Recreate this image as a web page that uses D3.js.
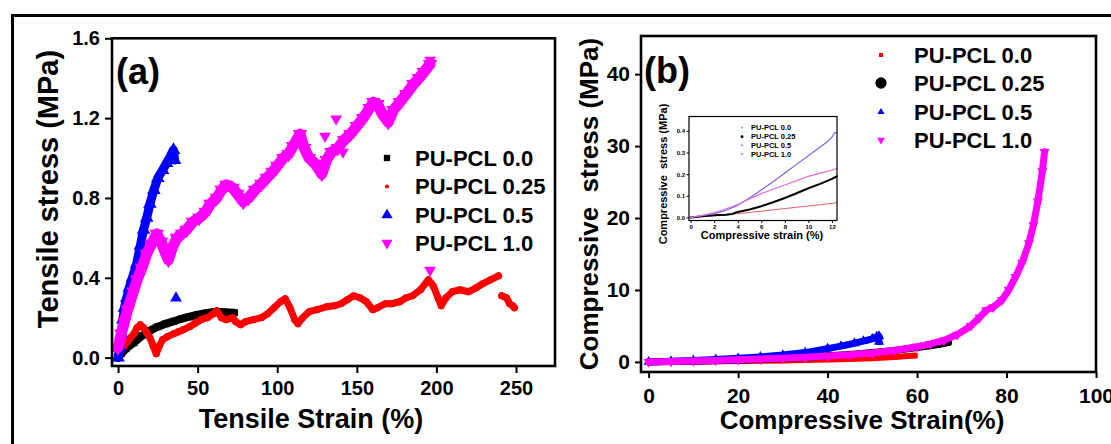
<!DOCTYPE html>
<html>
<head>
<meta charset="utf-8">
<script src="https://cdn.jsdelivr.net/npm/d3@7"></script>
<style>
  body { margin: 0; background: #fff; }
  svg { display: block; }
  text { font-family: "Liberation Sans", Arial, sans-serif; font-weight: bold; fill: #000; }
</style>
</head>
<body>
<svg id="fig" width="1111" height="444"></svg>
<script>
// ---------- (a) tensile curves: [strain %, stress MPa] ----------
const tensile00 = [[0,0.0],[2,0.02],[5,0.045],[10,0.075],[15,0.11],[20,0.135],[25,0.155],[30,0.17],[35,0.182],[40,0.195],[45,0.205],[50,0.215],[55,0.222],[60,0.228],[65,0.228],[70,0.226],[73,0.225]];
const tensile025 = [[0,0.01],[2,0.04],[4,0.06],[6,0.08],[8,0.1],[10,0.12],[12,0.15],[14,0.165],[16,0.15],[18,0.125],[20,0.1],[22,0.06],[24,0.02],[26,0.06],[28,0.09],[31,0.105],[35,0.12],[38,0.13],[41,0.14],[45,0.155],[48,0.17],[52,0.19],[56,0.2],[60,0.22],[62,0.235],[65,0.2],[68,0.19],[72,0.2],[74,0.18],[77,0.165],[80,0.18],[85,0.19],[90,0.2],[94,0.22],[98,0.25],[102,0.28],[105,0.295],[108,0.25],[111,0.19],[113,0.17],[116,0.2],[120,0.23],[125,0.24],[131,0.255],[136,0.26],[140,0.27],[144,0.29],[148,0.31],[152,0.3],[156,0.28],[160,0.24],[163,0.25],[168,0.27],[172,0.27],[177,0.28],[181,0.3],[185,0.31],[190,0.34],[195,0.39],[198,0.36],[201,0.3],[203,0.26],[206,0.3],[210,0.33],[215,0.34],[220,0.33],[225,0.35],[229,0.37],[234,0.39],[239,0.41],[240,null],[241,0.31],[244,0.3],[246,0.27],[248,0.26],[249,0.25]];
const tensile05 = [[0,0.0],[1,0.05],[2,0.12],[3,0.19],[4,0.25],[5.5,0.3],[7,0.35],[9,0.4],[11.7,0.47],[14,0.56],[16,0.64],[18,0.7],[20,0.77],[22.5,0.84],[25,0.9],[28,0.94],[30.5,0.975],[33,1.01],[34.8,1.04],[35.5,0.99]];
const tensile10 = [[0,0.05],[2,0.12],[4,0.18],[6,0.24],[9.6,0.33],[12,0.39],[15,0.45],[18,0.52],[21,0.57],[24.3,0.62],[27,0.58],[30,0.52],[31.6,0.49],[34,0.55],[37,0.6],[40,0.62],[43,0.64],[47,0.68],[51,0.7],[55,0.73],[58,0.77],[62,0.8],[65,0.84],[68,0.866],[72,0.85],[75,0.82],[78.7,0.78],[82,0.8],[86,0.84],[90,0.87],[93.4,0.9],[97,0.93],[100,0.96],[103.8,1.0],[107,1.02],[110,1.06],[114.3,1.12],[117,1.05],[120,1.0],[124,0.97],[128,0.92],[131,0.99],[134,1.03],[138,1.05],[142,1.09],[146,1.12],[150,1.16],[154,1.2],[158,1.25],[160.4,1.28],[163,1.27],[166,1.22],[169.8,1.18],[173,1.24],[177,1.28],[181,1.32],[185.5,1.37],[189,1.4],[192,1.43],[196,1.47]];
// stray single readings
const tensile05Stray = [[36.4,0.298]];
const tensile10Stray = [[137,1.196],[130,1.11],[141.3,1.03],[196,0.438],[196,1.49]];

const tensileXTicks = [0, 50, 100, 150, 200, 250];
const tensileYTicks = [0.0, 0.4, 0.8, 1.2, 1.6];

// ---------- (b) compressive curves ----------
const comp00 = [[0,0],[5,0.02],[10,0.05],[15,0.08],[20,0.12],[25,0.16],[30,0.21],[35,0.27],[40,0.34],[45,0.42],[50,0.52],[55,0.68],[59.5,0.88]];
const comp025 = [[0,0],[5,0.05],[10,0.1],[15,0.17],[20,0.25],[25,0.35],[30,0.47],[35,0.62],[40,0.85],[45,1.05],[50,1.3],[55,1.6],[60,2.0],[63,2.25],[65,2.45],[67,2.7]];
const comp05 = [[0,0],[5,0.1],[10,0.2],[15,0.35],[20,0.5],[25,0.7],[30,0.95],[35,1.3],[40,1.85],[43,2.2],[46,2.6],[48,2.9],[50,3.2],[51,3.5],[51.5,3.6],[51.5,2.8]];
const comp10 = [[0,0],[5,0.05],[10,0.12],[15,0.2],[20,0.3],[25,0.4],[30,0.52],[35,0.66],[40,0.82],[45,1.0],[50,1.25],[55,1.6],[60,2.1],[63,2.5],[66,3.0],[69,3.8],[72,5.0],[74,6.2],[75.5,7.2],[77,7.6],[79,8.6],[80.5,10.0],[82,11.8],[83.5,13.8],[85,16.5],[86,19.0],[87,22.3],[88,26.5],[88.5,29.2]];

const compXTicks = [0, 20, 40, 60, 80, 100];
const compYTicks = [0, 10, 20, 30, 40];

// ---------- (b) inset: low-strain region ----------
const inset00 = [[0,0],[1,0.004],[2,0.008],[3,0.012],[4,0.018],[5,0.023],[6,0.029],[7,0.035],[8,0.041],[9,0.047],[10,0.053],[11,0.059],[12,0.065],[12.4,0.068]];
const inset025 = [[0,0],[1,0.006],[2,0.01],[3,0.013],[3.5,0.016],[4,0.025],[5,0.037],[6,0.052],[7,0.07],[8,0.09],[9,0.112],[10,0.135],[11,0.155],[12,0.178],[12.4,0.19]];
const inset05 = [[0,0],[1,0.008],[2,0.018],[3,0.033],[4,0.056],[5,0.09],[6,0.127],[7,0.165],[8,0.205],[9,0.245],[10,0.285],[11,0.325],[11.5,0.345],[12,0.37],[12.2,0.39],[12.4,0.39]];
const inset10 = [[0,0],[1,0.01],[2,0.022],[3,0.04],[4,0.06],[5,0.085],[6,0.11],[7,0.13],[8,0.15],[9,0.17],[10,0.19],[11,0.205],[12,0.218],[12.4,0.226]];

const insetXTicks = [0, 2, 4, 6, 8, 10, 12];
const insetYTicks = [0.0, 0.1, 0.2, 0.3, 0.4];

const seriesNames = ["PU-PCL 0.0", "PU-PCL 0.25", "PU-PCL 0.5", "PU-PCL 1.0"];

// ---------- drawing ----------
const svg = d3.select("#fig");
const triDown = { draw(ctx, size) { const h = Math.sqrt(size / (Math.sqrt(3) / 4)); const r = h / Math.sqrt(3);
  ctx.moveTo(0, r); ctx.lineTo(h / 2, -r / 2); ctx.lineTo(-h / 2, -r / 2); ctx.closePath(); } };

// outer frame
svg.append("path").attr("d", "M12.5,460 V15.5 H1120").attr("fill", "none").attr("stroke", "#000").attr("stroke-width", 3);

function minorOf(ticks) {
  const out = [];
  for (let i = 0; i < ticks.length - 1; i++) out.push((ticks[i] + ticks[i + 1]) / 2);
  return out;
}

function frame(g, x, y, o) {
  const [x0, x1] = x.range(), [y1, y0] = y.range();
  const gx = g.append("g").attr("transform", `translate(0,${y1})`);
  gx.call(d3.axisBottom(x).tickValues(minorOf(o.xt)).tickSize(o.minor).tickFormat(""));
  gx.call(d3.axisBottom(x).tickValues(o.xt).tickSize(o.major).tickPadding(o.xpad).tickFormat(o.xf));
  const gy = g.append("g").attr("transform", `translate(${x0},0)`);
  gy.call(d3.axisLeft(y).tickValues(minorOf(o.yt)).tickSize(o.minor).tickFormat(""));
  gy.call(d3.axisLeft(y).tickValues(o.yt).tickSize(o.major).tickPadding(o.ypad).tickFormat(o.yf));
  [gx, gy].forEach(a => {
    a.selectAll(".domain").remove();
    a.selectAll("line").attr("stroke", "#000").attr("stroke-width", o.tw);
    a.selectAll("text").style("font-size", o.fs + "px").attr("fill", "#000");
  });
  g.append("rect").attr("x", x0).attr("y", y0).attr("width", x1 - x0).attr("height", y1 - y0)
    .attr("fill", "none").attr("stroke", "#000").attr("stroke-width", o.bw);
}

function series(g, x, y, data, color, shape, size, lw) {
  const line = d3.line().defined(d => d[1] != null).x(d => x(d[0])).y(d => y(d[1]));
  g.append("path").datum(data).attr("d", line).attr("fill", "none").attr("stroke", color)
    .attr("stroke-width", lw).attr("stroke-linejoin", "round").attr("stroke-linecap", "round");
  if (shape) {
    g.selectAll(null).data(data.filter(d => d[1] != null)).enter().append("path")
      .attr("d", d3.symbol(shape, size)).attr("fill", color)
      .attr("transform", d => `translate(${x(d[0])},${y(d[1])})`);
  }
}

function legend(g, items, x0, xt, rows, fs) {
  items.forEach((it, i) => {
    g.append("path").attr("d", d3.symbol(it.shape, it.size)).attr("fill", it.color)
      .attr("transform", `translate(${x0},${rows[i]})`);
    g.append("text").attr("x", xt).attr("y", rows[i]).attr("dy", "0.36em")
      .style("font-size", fs + "px").text(seriesNames[i]);
  });
}

// ===== panel (a) =====
{
  const x = d3.scaleLinear().domain([-3.8, 274.5]).range([112, 555]);
  const y = d3.scaleLinear().domain([-0.042, 1.6]).range([366, 38.3]);
  const g = svg.append("g");
  const plot = g.append("g");
  series(plot, x, y, tensile00, "#000", d3.symbolSquare, 50, 8);
  series(plot, x, y, tensile025, "#ff0000", d3.symbolCircle, 40, 7);
  series(plot, x, y, tensile05, "#0000ff", d3.symbolTriangle, 80, 9);
  series(plot, x, y, tensile10, "#ff00ff", triDown, 90, 11);
  plot.selectAll(null).data(tensile05Stray).enter().append("path").attr("d", d3.symbol(d3.symbolTriangle, 60))
    .attr("fill", "#0000ff").attr("transform", d => `translate(${x(d[0])},${y(d[1])})`);
  plot.selectAll(null).data(tensile10Stray).enter().append("path").attr("d", d3.symbol(triDown, 60))
    .attr("fill", "#ff00ff").attr("transform", d => `translate(${x(d[0])},${y(d[1])})`);

  frame(g, x, y, { xt: tensileXTicks, yt: tensileYTicks, major: 7, minor: 4, xpad: 8, ypad: 5,
    xf: d3.format("d"), yf: d3.format(".1f"), fs: 20, tw: 2, bw: 2.6 });

  g.append("text").attr("x", 116).attr("y", 84).style("font-size", "36px").text("(a)");
  g.append("text").attr("x", 311).attr("y", 428).attr("text-anchor", "middle").style("font-size", "27px").text("Tensile Strain (%)");
  g.append("text").attr("transform", "translate(58,189) rotate(-90)").attr("text-anchor", "middle")
    .style("font-size", "29px").text("Tensile stress (MPa)");

  legend(g, [
    { shape: d3.symbolSquare, size: 40, color: "#000" },
    { shape: d3.symbolCircle, size: 14, color: "#ff0000" },
    { shape: d3.symbolTriangle, size: 55, color: "#0000ff" },
    { shape: triDown, size: 55, color: "#ff00ff" }
  ], 387, 415, [158, 186.5, 215, 243], 22);
}

// ===== panel (b) =====
{
  const x = d3.scaleLinear().domain([-1.7, 100]).range([641, 1096]);
  const y = d3.scaleLinear().domain([-1.4, 45.3]).range([372, 36]);
  const g = svg.append("g");
  const plot = g.append("g");
  series(plot, x, y, comp00, "#ff0000", d3.symbolSquare, 30, 6);
  series(plot, x, y, comp025, "#000", d3.symbolCircle, 40, 7);
  series(plot, x, y, comp05, "#0000ff", d3.symbolTriangle, 45, 7);
  series(plot, x, y, comp10, "#ff00ff", triDown, 45, 7);

  frame(g, x, y, { xt: compXTicks, yt: compYTicks, major: 6, minor: 4, xpad: 10, ypad: 5,
    xf: d3.format("d"), yf: d3.format("d"), fs: 21, tw: 2, bw: 2.6 });

  g.append("text").attr("x", 644).attr("y", 83).style("font-size", "36px").text("(b)");
  g.append("text").attr("x", 862).attr("y", 429).attr("text-anchor", "middle").style("font-size", "26px").text("Compressive Strain(%)");
  g.append("text").attr("transform", "translate(598,204) rotate(-90)").attr("text-anchor", "middle")
    .attr("xml:space", "preserve").style("font-size", "26px").style("white-space", "pre").text("Compressive  stress (MPa)");

  legend(g, [
    { shape: d3.symbolSquare, size: 16, color: "#ff0000" },
    { shape: d3.symbolCircle, size: 100, color: "#000" },
    { shape: d3.symbolTriangle, size: 22, color: "#0000ff" },
    { shape: triDown, size: 26, color: "#ff00ff" }
  ], 881, 914, [55, 83, 112, 140], 22);

  // inset
  const xi = d3.scaleLinear().domain([-0.14, 12.43]).range([689, 837]);
  const yi = d3.scaleLinear().domain([-0.014, 0.466]).range([220.5, 116.5]);
  const gi = g.append("g");
  gi.append("rect").attr("x", 689).attr("y", 116.5).attr("width", 148).attr("height", 104).attr("fill", "#fff");
  series(gi, xi, yi, inset00, "#e86060", null, 0, 1);
  series(gi, xi, yi, inset025, "#000", null, 0, 2);
  series(gi, xi, yi, inset05, "#7468e6", null, 0, 1.2);
  series(gi, xi, yi, inset10, "#e46ad2", null, 0, 1.2);
  frame(gi, xi, yi, { xt: insetXTicks, yt: insetYTicks, major: 2.5, minor: 1.5, xpad: 1.5, ypad: 1.5,
    xf: d3.format("d"), yf: d3.format(".1f"), fs: 6, tw: 1, bw: 1.2 });
  gi.append("text").attr("x", 762).attr("y", 238.5).attr("text-anchor", "middle").style("font-size", "11px").text("Compressive strain (%)");
  gi.append("text").attr("transform", "translate(667,174) rotate(-90)").attr("text-anchor", "middle")
    .attr("xml:space", "preserve").style("font-size", "11px").style("white-space", "pre").text("Compressive  stress (MPa)");
  legend(gi, [
    { shape: d3.symbolSquare, size: 3, color: "#f08080" },
    { shape: d3.symbolCircle, size: 7, color: "#000" },
    { shape: d3.symbolTriangle, size: 4, color: "#e080d0" },
    { shape: triDown, size: 4, color: "#e080d0" }
  ], 742, 751, [127.7, 136.7, 145.3, 154], 7.5);
  gi.selectAll("text").attr("fill", "#333");
}
</script>
</body>
</html>
